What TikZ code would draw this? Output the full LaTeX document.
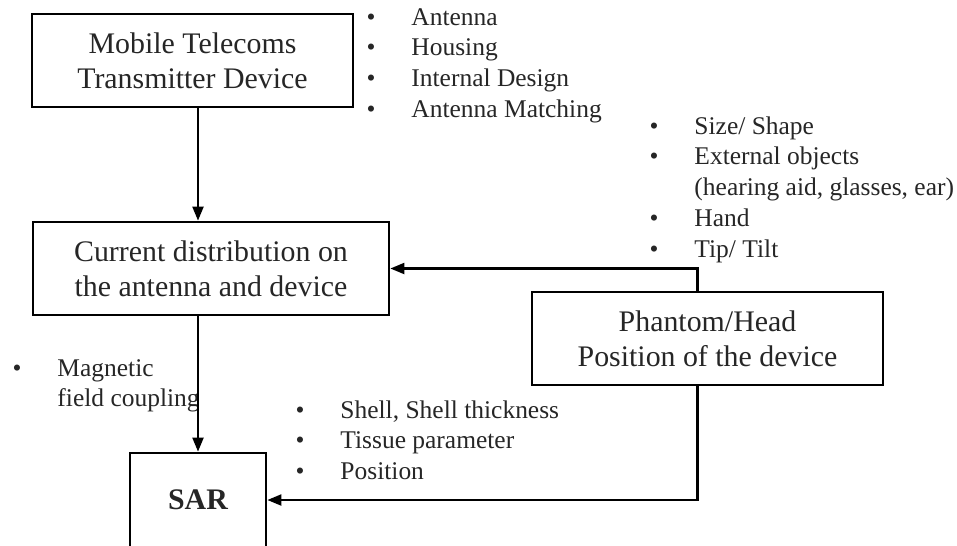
\documentclass[tikz,border=0pt]{standalone}
\usepackage{fontspec}
\setmainfont{Liberation Serif}
\usetikzlibrary{positioning,arrows.meta}

\begin{document}
\begin{tikzpicture}[x=0.02cm, y=-0.02cm,
      block/.style={rectangle, draw, line width=1.6pt, align=center, minimum height=1.86cm, inner sep=0pt, text=black!85, font=\fontsize{17}{19.9}\selectfont},
      items/.style={anchor=base west, inner sep=0pt, text=black!85, font=\fontsize{14.5}{17.6}\selectfont},
      >={Triangle[length=0.28cm, width=0.22cm]}, line width=1.2pt
      ]
      \useasboundingbox (0,0) rectangle (957,545);
      \node[block, minimum width=6.42cm] (MT) at (192.5,60.5) {Mobile Telecoms\\Transmitter Device};
      \node[block, minimum width=7.12cm] (CD) at (211,268.5) {Current distribution on\\the antenna and device};
      \node[block, minimum width=7.02cm] (PH) at (707.5,338.5) {Phantom/Head\\Position of the device};
      \node[block, minimum width=2.72cm, minimum height=1.88cm, font=\fontsize{17}{19.9}\selectfont\bfseries] (SAR) at (198,500) {SAR};
      % influence lists
      \node[items] (MTL) at (365.5,25) {\begin{tabular}[t]{@{}l@{\hspace{0.72cm}}l@{}}
        \textbullet & Antenna\\ \textbullet & Housing\\ \textbullet & Internal Design\\ \textbullet & Antenna Matching
      \end{tabular}};
      \node[items] (PHL) at (648.5,134) {\begin{tabular}[t]{@{}l@{\hspace{0.72cm}}l@{}}
        \textbullet & Size/ Shape\\ \textbullet & External objects\\ & (hearing aid, glasses, ear)\\ \textbullet & Hand\\ \textbullet & Tip/ Tilt
      \end{tabular}};
      \node[items] (MAG) at (11.5,376) {\begin{tabular}[t]{@{}l@{\hspace{0.72cm}}l@{}}
        \textbullet & Magnetic\\ & field coupling
      \end{tabular}};
      \node[items] (SHL) at (294.5,418) {\begin{tabular}[t]{@{}l@{\hspace{0.72cm}}l@{}}
        \textbullet & Shell, Shell thickness\\ \textbullet & Tissue parameter\\ \textbullet & Position
      \end{tabular}};
      \draw[->] (SAR.north |- MT.south) -- (SAR.north |- CD.north);
      \draw[->] (CD.south -| SAR.north) -- (SAR.north);
      \draw[->] ([xshift=-0.2cm]PH.north) |- (CD.east);
      \draw[->] ([xshift=-0.2cm]PH.south) |- (SAR.east);
    \end{tikzpicture}
\end{document}
